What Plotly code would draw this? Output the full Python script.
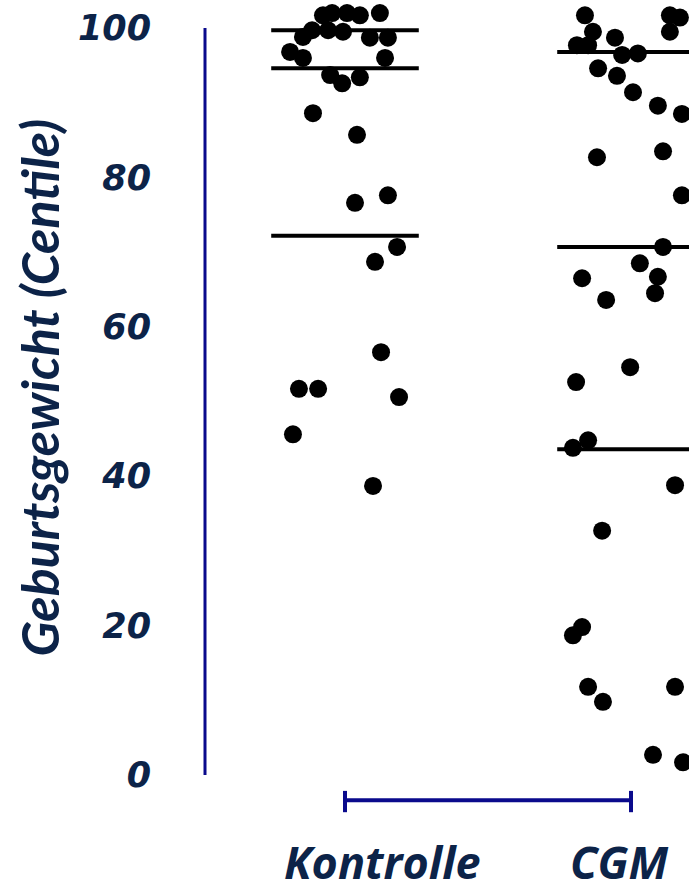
import plotly.graph_objects as go

# ---- data ----
groups = ["Kontrolle", "CGM"]

kontrolle_values = [101.7, 102.0, 102.0, 101.7, 102.0, 98.8, 99.7, 99.7, 99.5, 98.7,
                    98.7, 96.8, 96.0, 96.0, 93.7, 92.6, 93.4, 88.6, 85.7, 76.6,
                    77.6, 70.7, 68.7, 56.6, 51.7, 51.7, 50.6, 45.6, 38.7]
kontrolle_jitter = [-0.077, -0.045, 0.007, 0.052, 0.122, -0.147, -0.115, -0.059, -0.007, 0.087,
                    0.150, -0.192, -0.147, 0.140, -0.052, -0.010, 0.052, -0.112, 0.042, 0.035,
                    0.150, 0.182, 0.105, 0.126, -0.161, -0.094, 0.189, -0.182, 0.098]

cgm_values = [101.7, 99.5, 97.7, 97.7, 98.7, 96.4, 96.6, 94.6, 93.6, 91.4,
              89.6, 88.5, 101.7, 101.4, 99.5, 82.7, 83.5, 77.6, 70.7, 68.5,
              66.5, 63.6, 66.7, 64.5, 54.6, 52.6, 43.8, 44.8, 38.8, 32.7,
              19.8, 18.7, 11.8, 9.8, 11.8, 2.7, 1.7]
cgm_jitter = [-0.161, -0.133, -0.189, -0.150, -0.056, -0.031, 0.024, -0.115, -0.049, 0.007,
              0.094, 0.178, 0.136, 0.171, 0.136, -0.119, 0.112, 0.178, 0.112, 0.031,
              -0.171, -0.087, 0.094, 0.084, -0.003, -0.192, -0.203, -0.150, 0.154, -0.101,
              -0.171, -0.203, -0.150, -0.098, 0.154, 0.077, 0.182]

# quartile lines (Q1, median, Q3)
kontrolle_quartiles = [72.2, 94.6, 99.7]
cgm_quartiles = [43.6, 70.7, 96.8]

y_ticks = [0, 20, 40, 60, 80, 100]
y_title = "Geburtsgewicht (Centile)"

# ---- styling ----
NAVY = "#0a0a8c"
TEXT = "#0c2348"
HALF = 0.258

fig = go.Figure()

for gi, (vals, jit, quarts) in enumerate([
        (kontrolle_values, kontrolle_jitter, kontrolle_quartiles),
        (cgm_values, cgm_jitter, cgm_quartiles)]):
    lx, ly = [], []
    for q in quarts:
        lx += [gi - HALF, gi + HALF, None]
        ly += [q, q, None]
    fig.add_trace(go.Scatter(x=lx, y=ly, mode="lines",
                             line=dict(color="black", width=4),
                             cliponaxis=False, showlegend=False, hoverinfo="skip"))
    fig.add_trace(go.Scatter(x=[gi + j for j in jit], y=vals, mode="markers",
                             marker=dict(color="black", size=18, line=dict(width=0)),
                             cliponaxis=False, showlegend=False, name=groups[gi]))

# y axis line spanning 0..100 only
fig.add_shape(type="line", xref="paper", yref="y", x0=0, x1=0,
              y0=y_ticks[0], y1=y_ticks[-1], line=dict(color=NAVY, width=3))

# x "axis": bracket between the two groups
BR_Y = -0.0325
fig.add_shape(type="line", xref="x", yref="paper", x0=0, x1=1, y0=BR_Y, y1=BR_Y,
              line=dict(color=NAVY, width=4))
for gi in range(2):
    fig.add_shape(type="line", xref="x", yref="paper", x0=gi, x1=gi,
                  y0=-0.0205, y1=-0.048, line=dict(color=NAVY, width=4))

label_offsets = [0.13, -0.04]
for gi, name in enumerate(groups):
    fig.add_annotation(text=name, x=gi + label_offsets[gi], xref="x",
                       y=-0.112, yref="paper", showarrow=False,
                       xanchor="center", yanchor="middle",
                       font=dict(family="Open Sans", size=45, color=TEXT,
                                 weight="bold", style="italic"))

fig.add_annotation(text=y_title, textangle=-90, xref="paper", yref="paper",
                   x=-0.345, y=0.50, showarrow=False, xanchor="center", yanchor="middle",
                   font=dict(family="Lato", size=52, color=TEXT, weight="bold", style="italic"))

fig.update_layout(
    width=689, height=881,
    margin=dict(l=205, r=0, t=0, b=106),
    paper_bgcolor="white", plot_bgcolor="white",
    xaxis=dict(range=[-0.4895, 1.2028], visible=False, fixedrange=True),
    yaxis=dict(range=[0, 103.75], tickvals=y_ticks, ticktext=[str(t) for t in y_ticks],
               showgrid=False, zeroline=False, showline=False,
               ticks="", ticklabelstandoff=53, fixedrange=True,
               tickfont=dict(family="DejaVu Sans", size=35, color=TEXT,
                             weight="bold", style="italic")),
    showlegend=False,
)

fig.write_html("out.html", config={"displayModeBar": False},
               post_script="document.body.style.margin='0';document.body.style.overflow='hidden';")
